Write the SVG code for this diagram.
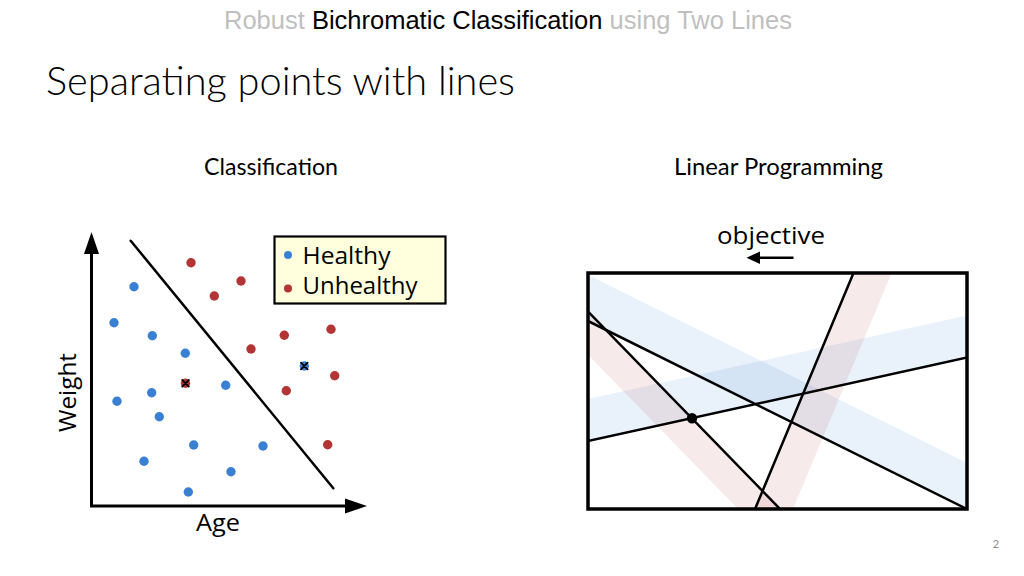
<svg xmlns="http://www.w3.org/2000/svg" width="1024" height="576" viewBox="0 0 1024 576">
<style>
.hdr{font-family:"Liberation Sans",Arial,sans-serif;font-size:25px;fill:#bfbfbf}
.hdr .b{fill:#000}
.ttl{font-family:Lato,"Open Sans",sans-serif;font-size:39px;font-weight:300;fill:#000}
.sub{font-family:Lato,"Open Sans",sans-serif;font-size:23px;fill:#000}
.lbl{font-family:"Open Sans","Noto Sans",sans-serif;font-size:24.5px;fill:#000}
.blue{fill:#3a80d2}
.red{fill:#b23434}
.ax{stroke:#000;stroke-width:3;fill:none}
.ln{stroke:#000;stroke-width:2.5;fill:none;stroke-linecap:round}
.cross{stroke:#000;stroke-width:1.8;stroke-linecap:round}
.bb{fill:#3a80d2;fill-opacity:0.11}
.rb{fill:#b23434;fill-opacity:0.1}
</style>
<defs>
<clipPath id="lpclip"><rect x="588" y="273" width="379" height="236"/></clipPath>
</defs>
<rect width="1024" height="576" fill="#fff"/>

<g id="header">
<text class="hdr" x="224" y="29" textLength="568" lengthAdjust="spacingAndGlyphs">Robust <tspan class="b">Bichromatic Classification</tspan> using Two Lines</text>
</g>
<g id="title">
<text class="ttl" x="46" y="95" textLength="469" lengthAdjust="spacingAndGlyphs">Separating points with lines</text>
</g>
<g id="subheads">
<text class="sub" x="204" y="175" textLength="134" lengthAdjust="spacingAndGlyphs">Classification</text>
<text class="sub" x="674" y="175" textLength="209" lengthAdjust="spacingAndGlyphs">Linear Programming</text>
</g>

<g id="classification-plot">
<g id="axes">
<path class="ax" d="M91.5,506 V252 M90,506 H347"/>
<polygon points="84,254 99,254 91.5,232" fill="#000"/>
<polygon points="345,498.5 345,513.5 367,506" fill="#000"/>
</g>
<text class="lbl" x="196" y="531" textLength="44" lengthAdjust="spacingAndGlyphs">Age</text>
<text class="lbl" transform="translate(76,392.5) rotate(-90)" x="0" y="0" text-anchor="middle" textLength="79" lengthAdjust="spacingAndGlyphs">Weight</text>
<line id="separator" class="ln" x1="130.7" y1="240.7" x2="333.3" y2="488.3"/>
<g id="healthy-points" class="blue">
<circle cx="134" cy="286.7" r="4.7"/>
<circle cx="114" cy="322.7" r="4.7"/>
<circle cx="152.3" cy="335.7" r="4.7"/>
<circle cx="185.3" cy="353.3" r="4.7"/>
<circle cx="225.7" cy="385.3" r="4.7"/>
<circle cx="151.7" cy="392.7" r="4.7"/>
<circle cx="117" cy="401.3" r="4.7"/>
<circle cx="159.3" cy="416.7" r="4.7"/>
<circle cx="193.7" cy="445" r="4.7"/>
<circle cx="263" cy="446" r="4.7"/>
<circle cx="144" cy="461.3" r="4.7"/>
<circle cx="231" cy="471.7" r="4.7"/>
<circle cx="188.3" cy="492" r="4.7"/>
<circle cx="304.3" cy="366" r="4.7"/>
</g>
<g id="unhealthy-points" class="red">
<circle cx="191" cy="262.7" r="4.7"/>
<circle cx="241" cy="281" r="4.7"/>
<circle cx="214.3" cy="296" r="4.7"/>
<circle cx="284.3" cy="335.3" r="4.7"/>
<circle cx="331" cy="329.3" r="4.7"/>
<circle cx="251" cy="349" r="4.7"/>
<circle cx="334.7" cy="375.7" r="4.7"/>
<circle cx="286.3" cy="390.7" r="4.7"/>
<circle cx="327.7" cy="444.7" r="4.7"/>
<circle cx="185.5" cy="383.3" r="4.7"/>
</g>
<g id="misclassified-marks" class="cross">
<path d="M301,362.7 l6.6,6.6 M307.6,362.7 l-6.6,6.6"/>
<path d="M182.2,380 l6.6,6.6 M188.8,380 l-6.6,6.6"/>
</g>
<g id="legend">
<rect x="274.5" y="236.5" width="171" height="67" fill="#ffffdd" stroke="#000" stroke-width="2.2"/>
<circle class="blue" cx="288" cy="255" r="4"/>
<circle class="red" cx="288" cy="288.5" r="4"/>
<text class="lbl" x="302.5" y="264" textLength="88" lengthAdjust="spacingAndGlyphs">Healthy</text>
<text class="lbl" x="302.5" y="294" textLength="115" lengthAdjust="spacingAndGlyphs">Unhealthy</text>
</g>
</g>

<g id="lp-plot">
<g id="objective">
<text class="lbl" x="771" y="244" text-anchor="middle" textLength="108" lengthAdjust="spacingAndGlyphs">objective</text>
<line x1="793.5" y1="257.7" x2="758" y2="257.7" stroke="#000" stroke-width="2.5"/>
<polygon points="760,251.5 760,263.9 746.5,257.7" fill="#000"/>
</g>
<g id="bands" clip-path="url(#lpclip)">
<polygon class="bb" points="560,307.1 1000,525.4 1000,479.4 560,261.1"/>
<polygon class="bb" points="560,447.2 1000,350.2 1000,308.2 560,405.2"/>
<polygon class="rb" points="528.2,250 810.2,540 768.2,540 486.2,250"/>
<polygon class="rb" points="863.1,250 742.1,540 780.1,540 901.1,250"/>
</g>
<g id="constraints" clip-path="url(#lpclip)">
<line class="ln" x1="528.2" y1="250" x2="810.2" y2="540"/>
<line class="ln" x1="560" y1="307.1" x2="1000" y2="525.4"/>
<line class="ln" x1="560" y1="447.2" x2="1000" y2="350.2"/>
<line class="ln" x1="863.1" y1="250" x2="742.1" y2="540"/>
</g>
<rect id="feasible-box" x="588" y="273" width="379" height="236" fill="none" stroke="#000" stroke-width="3.5"/>
<circle id="optimum" cx="692" cy="418.2" r="5.2" fill="#000"/>
</g>

<g id="page-number">
<text x="996" y="548" text-anchor="middle" font-family="Lato,'Open Sans',sans-serif" font-size="11" fill="#8c8c8c">2</text>
</g>
</svg>
